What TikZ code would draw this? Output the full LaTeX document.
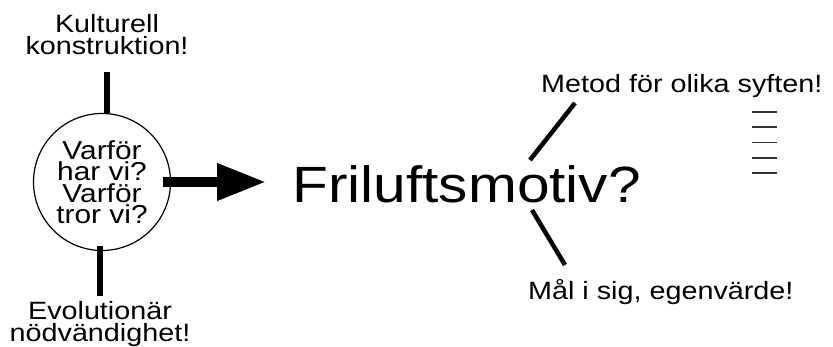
\documentclass[tikz,border=0pt]{standalone}
\usepackage{fontspec}
\setmainfont{Liberation Sans}[FakeStretch=1.15]
\usetikzlibrary{arrows.meta}
\tikzset{txt/.style={inner sep=0pt, align=center, font=\fontsize{25}{22}\selectfont},
  stick/.style={line width=6pt},
  branch/.style={line width=4.5pt}}

\begin{document}
\begin{tikzpicture}[x=1pt,y=1pt]
\useasboundingbox (0,0) rectangle (833,347);
\node [circle, draw, line width=1.2pt, minimum size=137pt, txt, font=\fontsize{26}{21.5}\selectfont] (varfor) at (102,165) {Varför\\har vi?\\Varför\\tror vi?};
\node [txt] (kultur) at (107,312) {Kulturell\\konstruktion!};
\node [txt] (evol) at (100,22.5) {Evolutionär\\nödvändighet!};
\node [inner sep=0pt, anchor=base west, font=\fontsize{51}{51}\selectfont] (fril) at (292,144) {Friluftsmotiv?};
\node [txt, anchor=base west] (metod) at (541,254) {Metod för olika syften!};
\node [txt, anchor=base west] (mal) at (528,47) {Mål i sig, egenvärde!};
\draw [stick, shorten <=17pt] (kultur.south) -- (kultur.south |- varfor.north);
\draw [stick, shorten <=-5pt, shorten >=6pt] (evol.north |- varfor.south) -- (evol.north);
\draw [line width=10pt, -{Triangle[length=49pt,width=35pt]}, shorten <=-8pt, shorten >=26pt] (varfor.east) -- (varfor.east -| fril.west);
% branches
\coordinate (up1) at (530,187);
\coordinate (up2) at (575,244);
\coordinate (lo1) at (532,137);
\coordinate (lo2) at (565,82);
\draw [branch] (up1) -- (up2);
\draw [branch] (lo1) -- (lo2);
\foreach \y in {235,219.75,204.5,189.25,174}
  \draw [line width=1.8pt, black!80] (752,\y) -- (777,\y);
\end{tikzpicture}
\end{document}
